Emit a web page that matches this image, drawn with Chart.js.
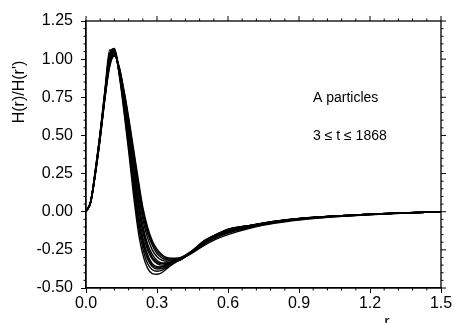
<!DOCTYPE html>
<html>
<head>
<meta charset="utf-8">
<script src="https://cdn.jsdelivr.net/npm/chart.js@4"></script>
<style>
html,body{margin:0;padding:0;background:#fff;}
canvas{display:block;}
</style>
</head>
<body>
<canvas id="c" width="454" height="323"></canvas>
<script>
// r grid shared by all curves
const rValues = [0,0.02,0.04,0.06,0.08,0.10,0.12,0.14,0.16,0.18,0.20,0.22,0.24,0.26,0.28,0.30,0.32,0.34,0.36,0.38,0.40,0.45,0.50,0.55,0.60,0.70,0.80,0.90,1.00,1.10,1.20,1.30,1.40,1.50];

// H(r)/H(r') curves for different times t
const curveT1  = [0,.07,.28,.52,.80,1.06,1.06,.90,.66,.40,.12,-.12,-.28,-.37,-.405,-.41,-.40,-.375,-.35,-.33,-.315,-.265,-.21,-.165,-.135,-.095,-.068,-.048,-.035,-.026,-.018,-.011,-.005,0];
const curveT2  = [0,.07,.28,.52,.79,1.04,1.06,.91,.68,.43,.16,-.08,-.24,-.34,-.38,-.39,-.385,-.365,-.345,-.328,-.314,-.262,-.205,-.163,-.132,-.094,-.067,-.048,-.035,-.026,-.018,-.011,-.005,0];
const curveT3  = [0,.07,.27,.51,.78,1.03,1.05,.91,.70,.46,.20,-.04,-.21,-.31,-.36,-.375,-.372,-.36,-.342,-.326,-.313,-.26,-.20,-.16,-.13,-.093,-.066,-.047,-.034,-.025,-.017,-.011,-.005,0];
const curveT4  = [0,.068,.27,.51,.78,1.02,1.05,.92,.72,.48,.24,0,-.17,-.28,-.34,-.36,-.362,-.352,-.337,-.323,-.312,-.262,-.203,-.158,-.127,-.092,-.066,-.047,-.034,-.025,-.017,-.010,-.005,0];
const curveT5  = [0,.066,.265,.50,.77,1.01,1.04,.92,.73,.51,.28,.05,-.13,-.25,-.31,-.34,-.35,-.344,-.332,-.32,-.31,-.258,-.198,-.156,-.125,-.091,-.065,-.046,-.034,-.025,-.017,-.010,-.005,0];
const curveT6  = [0,.065,.26,.50,.76,.99,1.04,.93,.75,.54,.31,.09,-.09,-.21,-.28,-.32,-.335,-.335,-.327,-.317,-.309,-.26,-.20,-.157,-.124,-.090,-.064,-.046,-.034,-.025,-.017,-.010,-.005,0];
const curveT7  = [0,.064,.258,.49,.755,.98,1.03,.94,.77,.57,.35,.13,-.05,-.17,-.25,-.295,-.318,-.325,-.322,-.314,-.307,-.257,-.196,-.153,-.121,-.089,-.063,-.045,-.033,-.024,-.016,-.010,-.005,0];
const curveT8  = [0,.062,.255,.485,.75,.97,1.03,.945,.78,.59,.38,.17,-.02,-.14,-.22,-.275,-.303,-.315,-.317,-.311,-.305,-.255,-.192,-.150,-.118,-.088,-.062,-.045,-.033,-.024,-.016,-.010,-.005,0];
const curveT9  = [0,.061,.252,.482,.745,.96,1.025,.948,.79,.605,.40,.195,.01,-.12,-.205,-.26,-.29,-.307,-.311,-.308,-.303,-.254,-.190,-.149,-.116,-.088,-.062,-.044,-.033,-.024,-.016,-.010,-.005,0];
const curveT10 = [0,.06,.25,.48,.74,.95,1.02,.95,.80,.62,.42,.22,.03,-.10,-.19,-.245,-.28,-.30,-.305,-.305,-.30,-.255,-.19,-.15,-.115,-.088,-.062,-.044,-.033,-.024,-.016,-.010,-.005,0];
const curveT11 = [0,.07,.27,.51,.78,1.03,1.07,.93,.71,.47,.22,-.02,-.19,-.30,-.35,-.365,-.36,-.348,-.335,-.322,-.312,-.27,-.22,-.18,-.15,-.105,-.075,-.055,-.040,-.029,-.020,-.012,-.006,0];
const curveT12 = [0,.066,.26,.50,.765,.995,1.045,.925,.74,.52,.29,.07,-.11,-.23,-.30,-.33,-.34,-.338,-.328,-.318,-.309,-.262,-.212,-.172,-.14,-.10,-.072,-.052,-.038,-.028,-.019,-.012,-.006,0];

const curves = [curveT1,curveT2,curveT3,curveT4,curveT5,curveT6,curveT7,curveT8,curveT9,curveT10,curveT11,curveT12];

// axis ticks
const xTickValues = [0.0,0.3,0.6,0.9,1.2,1.5];
const yTickValues = [-0.50,-0.25,0.00,0.25,0.50,0.75,1.00,1.25];

const yAxisTitle = "H(r)/H(r')";
const xAxisTitle = "r";
const noteLine1 = "A particles";
const noteLine2 = "3 \u2264 t \u2264 1868";

const FONT = "'Liberation Sans', Arial, Helvetica, sans-serif";

const datasets = curves.map((vals, i) => ({
  label: 't' + (i + 1),
  data: rValues.map((r, j) => ({x: r, y: vals[j]})),
  borderColor: '#000',
  borderWidth: 1.4,
  pointRadius: 0,
  fill: false,
  cubicInterpolationMode: 'monotone'
}));

const framePlugin = {
  id: 'frame',
  afterDraw(chart) {
    const ctx = chart.ctx;
    const a = chart.chartArea;
    const xs = chart.scales.x, ys = chart.scales.y;
    ctx.save();
    ctx.strokeStyle = '#000';
    ctx.lineWidth = 1.3;
    ctx.strokeRect(a.left, a.top, a.right - a.left, a.bottom - a.top);
    ctx.lineWidth = 1;
    ctx.beginPath();
    // major ticks on top and right
    xTickValues.forEach(v => {
      const px = xs.getPixelForValue(v);
      ctx.moveTo(px, a.top); ctx.lineTo(px, a.top - 5);
    });
    yTickValues.forEach(v => {
      const py = ys.getPixelForValue(v);
      ctx.moveTo(a.right, py); ctx.lineTo(a.right + 5, py);
    });
    // minor ticks on all sides
    for (let k = 0; k < xTickValues.length - 1; k++) {
      const step = (xTickValues[k+1] - xTickValues[k]) / 5;
      for (let m = 1; m < 5; m++) {
        const px = xs.getPixelForValue(xTickValues[k] + m * step);
        ctx.moveTo(px, a.top); ctx.lineTo(px, a.top - 2.5);
        ctx.moveTo(px, a.bottom); ctx.lineTo(px, a.bottom + 2.5);
      }
    }
    for (let k = 0; k < yTickValues.length - 1; k++) {
      const step = (yTickValues[k+1] - yTickValues[k]) / 5;
      for (let m = 1; m < 5; m++) {
        const py = ys.getPixelForValue(yTickValues[k] + m * step);
        ctx.moveTo(a.left, py); ctx.lineTo(a.left - 2.5, py);
        ctx.moveTo(a.right, py); ctx.lineTo(a.right + 2.5, py);
      }
    }
    ctx.stroke();

    // texts
    ctx.fillStyle = '#000';
    ctx.font = '16px ' + FONT;
    ctx.textAlign = 'center';
    ctx.textBaseline = 'middle';
    ctx.save();
    ctx.translate(20, 92);
    ctx.rotate(-Math.PI / 2);
    ctx.fillText(yAxisTitle, 0, 0);
    ctx.restore();

    ctx.textBaseline = 'top';
    ctx.fillText(xAxisTitle, 387, 315);

    ctx.font = '14px ' + FONT;
    ctx.textAlign = 'left';
    ctx.textBaseline = 'middle';
    ctx.fillText(noteLine1, 313, 98);
    ctx.fillText(noteLine2, 313, 136);
    ctx.restore();
  }
};

new Chart(document.getElementById('c'), {
  type: 'line',
  data: { datasets },
  options: {
    responsive: false,
    animation: false,
    devicePixelRatio: 1,
    layout: { padding: { left: 0, right: 13, top: 21, bottom: 0 } },
    plugins: { legend: { display: false }, tooltip: { enabled: false } },
    scales: {
      x: {
        type: 'linear',
        min: 0, max: 1.5,
        afterBuildTicks(scale) { scale.ticks = xTickValues.map(v => ({value: v})); },
        afterFit(scale) { scale.height = 35; },
        ticks: {
          color: '#000',
          font: { family: FONT, size: 16 },
          padding: 1,
          maxRotation: 0,
          autoSkip: false,
          callback: v => Number(v).toFixed(1)
        },
        grid: { display: true, drawOnChartArea: false, drawTicks: true, tickLength: 5, color: '#000' },
        border: { display: true, color: '#000', width: 1.3 }
      },
      y: {
        type: 'linear',
        min: -0.5, max: 1.25,
        afterBuildTicks(scale) { scale.ticks = yTickValues.map(v => ({value: v})); },
        afterFit(scale) { scale.width = 86; },
        ticks: {
          color: '#000',
          font: { family: FONT, size: 16 },
          padding: 8,
          autoSkip: false,
          callback: v => Number(v).toFixed(2)
        },
        grid: { display: true, drawOnChartArea: false, drawTicks: true, tickLength: 5, color: '#000' },
        border: { display: true, color: '#000', width: 1.3 }
      }
    }
  },
  plugins: [framePlugin]
});
</script>
</body>
</html>
